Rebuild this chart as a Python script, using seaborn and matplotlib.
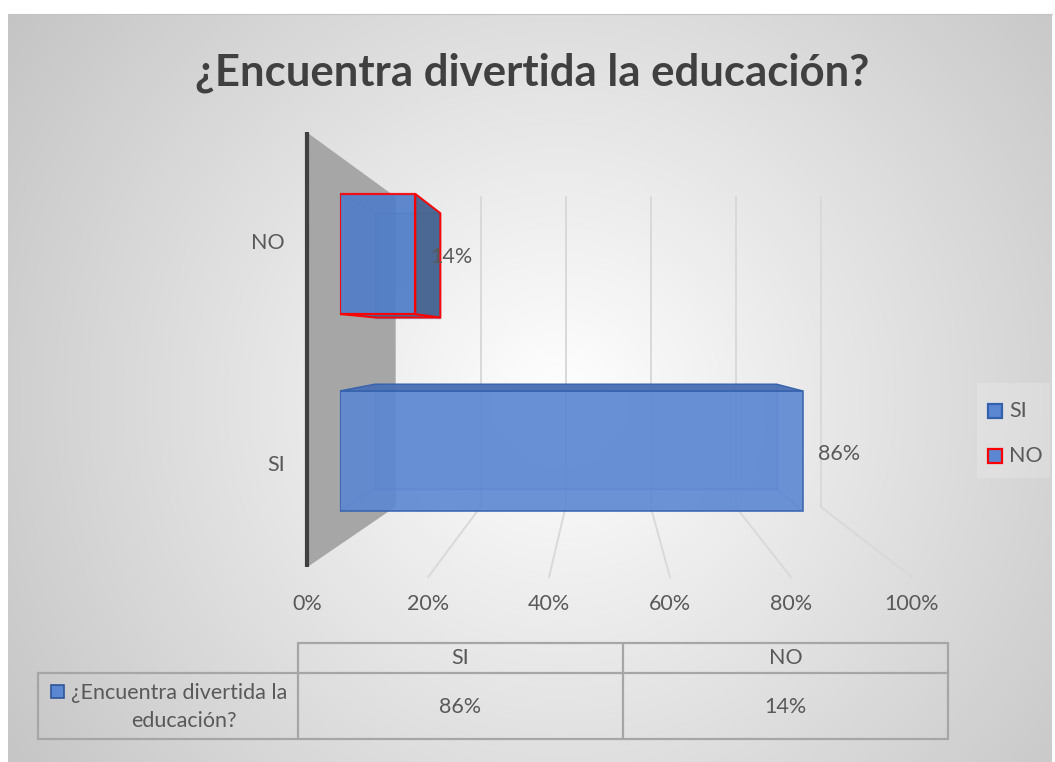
import numpy as np
import matplotlib
matplotlib.use("Agg")
import matplotlib.pyplot as plt
from matplotlib.patches import Polygon, Rectangle
from matplotlib.transforms import Affine2D
import seaborn as sns
import pandas as pd

# ---------------- data ----------------
title = "¿Encuentra divertida la educación?"
categories = ["SI", "NO"]
values = [0.86, 0.14]
value_labels = ["86%", "14%"]
tick_values = [0.0, 0.2, 0.4, 0.6, 0.8, 1.0]
tick_labels = ["0%", "20%", "40%", "60%", "80%", "100%"]
series_line1 = "¿Encuentra divertida la"
series_line2 = "educación?"

# ---------------- style ----------------
W, H = 1055, 762
sns.set_theme(style="white")
plt.rcParams['font.family'] = ['Lato', 'DejaVu Sans']

face_col = {"SI": "#5b87d2", "NO": "#4f7dc9"}
edge_col = {"SI": "#3461ad", "NO": "#ff0000"}
side_col = {"SI": "#4a70b4", "NO": "#45628f"}
txt = "#595959"
FS = 15.5

fig = plt.figure(figsize=(W / 100, H / 100), dpi=100)
fig.patch.set_facecolor("white")
pixT = Affine2D().scale(1, -1).translate(0, H)

# background axes in image-pixel coordinates
bg = fig.add_axes([0, 0, 1, 1], zorder=0)
x0, y0, x1, y1 = 8, 14, 1052, 762
yy, xx = np.mgrid[y0:y1, x0:x1]
r = np.hypot(xx - 560, (yy - 400) * 1.0)
g = 1 - (r / r.max()) * (1 - 0.77)
bg.imshow(np.dstack([g, g, g]), extent=(x0, x1, y1, y0), interpolation="bilinear",
          aspect="auto", zorder=0)
bg.plot([x0, x1], [y0, y0], color="#c4c4c4", lw=0.8, zorder=1)
bg.set_xlim(0, W)
bg.set_ylim(H, 0)
bg.axis("off")

# perspective model (bar-front plane in pixels)
V = (605.0, 340.0)
K_BACK_BAR = 0.868
K_FLOOR = 1.1245
K_WALL = 0.79
PL, PR, PT, PB = 340, 878, 159, 551      # plot box in bar-front plane
C0, CSTEP = 254.0, 197.0                 # category centres (px)


def P(x, y, k):
    return (V[0] + (x - V[0]) * k, V[1] + (y - V[1]) * k)


# bars axes
ax = fig.add_axes([PL / W, 1 - PB / H, (PR - PL) / W, (PB - PT) / H], zorder=2)
order = categories[::-1]
df = pd.DataFrame({"category": categories, "value": values})
sns.barplot(data=df, x="value", y="category", order=order, orient="h", width=0.61,
            color=face_col["SI"], saturation=1, ax=ax)
ax.set_xlim(0, 1)
ax.set_ylim((PB - C0) / CSTEP, (PT - C0) / CSTEP)
ax.axis("off")


def to_px(x, y):
    d = ax.transData.transform((x, y))
    return d[0], H - d[1]


# wall, gridlines, floor
fl_top, fl_bot = P(PL, PT, K_FLOOR), P(PL, PB, K_FLOOR)
bk_top, bk_bot = P(PL, PT, K_WALL), P(PL, PB, K_WALL)
bg.add_patch(Polygon([(fl_top[0], fl_top[1] - 4), bk_top, bk_bot, (fl_bot[0], fl_bot[1] - 10)],
                     closed=True, fc="#a6a6a6", ec="none", zorder=2))
for t, lab in zip(tick_values, tick_labels):
    xpx = to_px(t, 0)[0]
    bt = P(xpx, PT, K_WALL)
    bb = P(xpx, PB, K_WALL)
    fb = P(xpx, PB, K_FLOOR)
    if t > 0:
        bg.plot([bt[0], bb[0]], [bt[1], bb[1]], color="#d9d9d9", lw=1.4, zorder=2)
        bg.plot([bb[0], fb[0]], [bb[1], fb[1]], color="#d9d9d9", lw=1.4, zorder=2)
    bg.text(fb[0], fb[1] + 27, lab, ha="center", va="center", fontsize=FS, color=txt)
bg.plot([fl_top[0], fl_bot[0]], [fl_top[1] - 4, fl_bot[1] - 10], color="#404040", lw=3,
        zorder=3, solid_capstyle="butt")

# 3D bars
for p in ax.patches:
    yc = p.get_y() + p.get_height() / 2
    cat = order[int(round(yc))]
    vlab = value_labels[categories.index(cat)]
    p.set_facecolor(face_col[cat])
    p.set_alpha(0.88)
    p.set_edgecolor(edge_col[cat])
    p.set_linewidth(1.6 if cat == "NO" else 1.2)
    p.set_zorder(5)
    l, t = to_px(p.get_x(), p.get_y())
    rr, b = to_px(p.get_x() + p.get_width(), p.get_y() + p.get_height())
    F = {"lt": (l, t), "rt": (rr, t), "rb": (rr, b), "lb": (l, b)}
    B = {k: P(x, y, K_BACK_BAR) for k, (x, y) in F.items()}
    ax.add_patch(Polygon([B["lt"], B["rt"], B["rb"], B["lb"]], closed=True, fc=face_col[cat],
                         alpha=0.35, ec="#3a5a9a", lw=1.0, transform=pixT, clip_on=False, zorder=3))
    faces = {
        "top": (["lt", "rt"], t > V[1]),
        "bottom": (["lb", "rb"], b < V[1]),
        "left": (["lt", "lb"], l > V[0]),
        "right": (["rt", "rb"], rr < V[0]),
    }
    for name, (keys, visible) in faces.items():
        poly = [F[keys[0]], F[keys[1]], B[keys[1]], B[keys[0]]]
        if visible:
            ax.add_patch(Polygon(poly, closed=True, fc=side_col[cat], alpha=0.95,
                                 ec=edge_col[cat], lw=1.4 if cat == "NO" else 1.0,
                                 transform=pixT, clip_on=False, zorder=6))
        else:
            ax.add_patch(Polygon(poly, closed=True, fc=face_col[cat], alpha=0.15,
                                 ec="#3a5a9a", lw=0.9, transform=pixT, clip_on=False, zorder=4))
    ax.text(rr + 15, (t + b) / 2 + 3, vlab, ha="left", va="center", fontsize=FS,
            color=txt, transform=pixT, zorder=10)
    lx, ly = P(l, (t + b) / 2, K_FLOOR)
    bg.text(lx - 22, ly, cat, ha="right", va="center", fontsize=FS, color=txt, zorder=4)

# title
bg.text(532, 73, title, ha="center", va="center", fontsize=31.5, fontweight="bold",
        color="#404040", zorder=4)

# legend
bg.add_patch(Rectangle((977, 383), 73, 95, fc="white", alpha=0.18, ec="none", zorder=2))
for i, cat in enumerate(categories):
    yc = 411 + 45 * i
    bg.add_patch(Rectangle((988, yc - 7), 14, 14, fc=face_col["SI"], ec=edge_col[cat],
                           lw=1.6, zorder=4))
    bg.text(1009, yc, cat, ha="left", va="center", fontsize=FS, color=txt, zorder=4)

# data table
lc = "#a6a6a6"
lw = 1.6
cols = [298, 623, 948]
rows = [643, 673, 739]
bg.plot([cols[0], cols[-1]], [rows[0], rows[0]], color=lc, lw=lw, zorder=3)
for yv in rows[1:]:
    bg.plot([38, cols[-1]], [yv, yv], color=lc, lw=lw, zorder=3)
for xv in cols:
    bg.plot([xv, xv], [rows[0], rows[-1]], color=lc, lw=lw, zorder=3)
bg.plot([38, 38], [rows[1], rows[-1]], color=lc, lw=lw, zorder=3)
for i, cat in enumerate(categories):
    cx = (cols[i] + cols[i + 1]) / 2
    bg.text(cx, (rows[0] + rows[1]) / 2, cat, ha="center", va="center", fontsize=FS,
            color=txt, zorder=4)
    bg.text(cx, (rows[1] + rows[2]) / 2 + 1, value_labels[i], ha="center", va="center",
            fontsize=FS, color=txt, zorder=4)
t1 = bg.text(179, 693, series_line1, ha="center", va="center", fontsize=FS, color=txt, zorder=4)
bg.text(184, 721, series_line2, ha="center", va="center", fontsize=FS, color=txt, zorder=4)
fig.canvas.draw()
ext = t1.get_window_extent()
bg.add_patch(Rectangle((ext.x0 - 20, 685), 13, 13, fc=face_col["SI"], ec="#2f5597", lw=1.2,
                       zorder=4))

fig.savefig("out.png", dpi=100, facecolor="white")
